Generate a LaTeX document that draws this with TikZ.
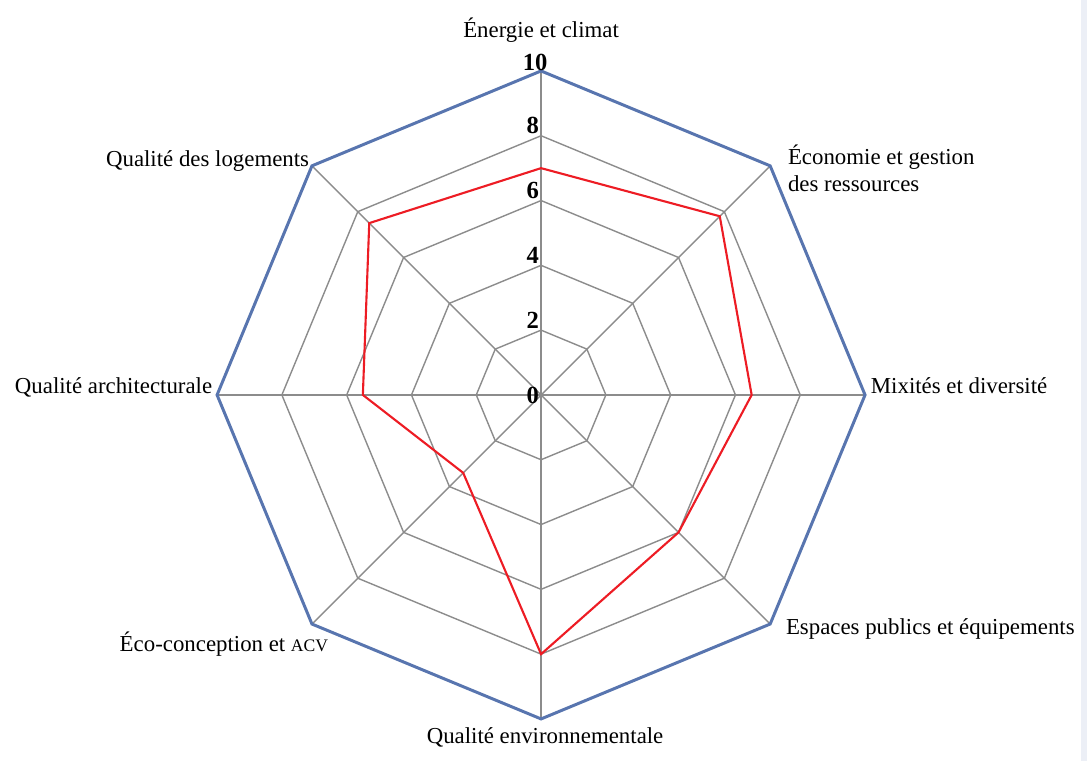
\documentclass[tikz,border=0pt]{standalone}
\usepackage{fontspec}
\setmainfont{Liberation Serif}
\usetikzlibrary{positioning}
\definecolor{outerblue}{RGB}{88,117,175}
\definecolor{gridgray}{RGB}{140,140,140}
\definecolor{scorered}{RGB}{237,28,36}
\definecolor{edgeband}{RGB}{236,239,246}
\tikzset{
  gridline/.style={draw=gridgray, line width=0.8pt},
  outerline/.style={draw=outerblue, line width=1.7pt, line join=miter},
  scoreline/.style={draw=scorered, line width=1.2pt, line join=miter},
  axislabel/.style={font=\fontsize{13}{15.5}\selectfont, inner sep=2pt, align=left},
  ticklabel/.style={font=\fontsize{14}{16}\selectfont\bfseries, inner sep=1pt},
}

\begin{document}
\begin{tikzpicture}[x=0.648cm, y=0.648cm]
  \useasboundingbox (-16.70,-11.30) rectangle (16.85,12.19);
  \fill[edgeband] (16.66,-11.30) rectangle (16.85,12.19);

  % spokes and rings
  \foreach \i in {0,...,7}
    \draw[gridline] (0,0) -- (90-45*\i:10);
  \foreach \r in {2,4,6,8}
    \draw[gridline] (90:\r) \foreach \i in {1,...,7}{ -- (90-45*\i:\r)} -- cycle;

  % outer ring (10)
  \foreach \i in {0,...,7}
    \coordinate (v\i) at (90-45*\i:10);
  \draw[outerline] (v0) -- (v1) -- (v2) -- (v3) -- (v4) -- (v5) -- (v6) -- (v7) -- cycle;

  % scores
  \foreach \s [count=\i from 0] in {7,7.8,6.5,6,8,3.4,5.5,7.5}
    \coordinate (s\i) at (90-45*\i:\s);
  \draw[scoreline] (s0) -- (s1) -- (s2) -- (s3) -- (s4) -- (s5) -- (s6) -- (s7) -- cycle;

  % scale
  \coordinate (c0) at (0,0);
  \node[ticklabel, anchor=east] (t0) at (c0) {0};
  \foreach \r in {2,4,6,8}
    \node[ticklabel, anchor=south east] (t\r) at (0,\r) {\r};
  \node[ticklabel, anchor=south, xshift=-0.12cm, yshift=-0.04cm] (t10) at (v0) {10};

  % axis labels
  \node[axislabel, anchor=south] (energie) at (0,10.75) {Énergie et climat};
  \node[axislabel, anchor=west, xshift=0.28cm, yshift=-0.05cm] (economie) at (v1) {Économie et gestion\\des ressources};
  \node[axislabel, anchor=west, xshift=0.04cm, yshift=0.18cm] (mixite) at (v2) {Mixités et diversité};
  \node[axislabel, anchor=west, xshift=0.24cm, yshift=-0.1cm] (espaces) at (v3) {Espaces publics et équipements};
  \node[axislabel, anchor=north, xshift=0.08cm, yshift=-0.1cm] (environ) at (v4) {Qualité environnementale};
  \node[axislabel, anchor=north east, xshift=0.4cm, yshift=-0.08cm] (eco) at (v5) {Éco-conception et {\fontsize{10}{12}\selectfont ACV}};
  \node[axislabel, anchor=east, xshift=-0.02cm, yshift=0.15cm] (archi) at (v6) {Qualité architecturale};
  \node[axislabel, anchor=south east, xshift=0.02cm, yshift=-0.18cm] (logement) at (v7) {Qualité des logements};
\end{tikzpicture}
\end{document}
